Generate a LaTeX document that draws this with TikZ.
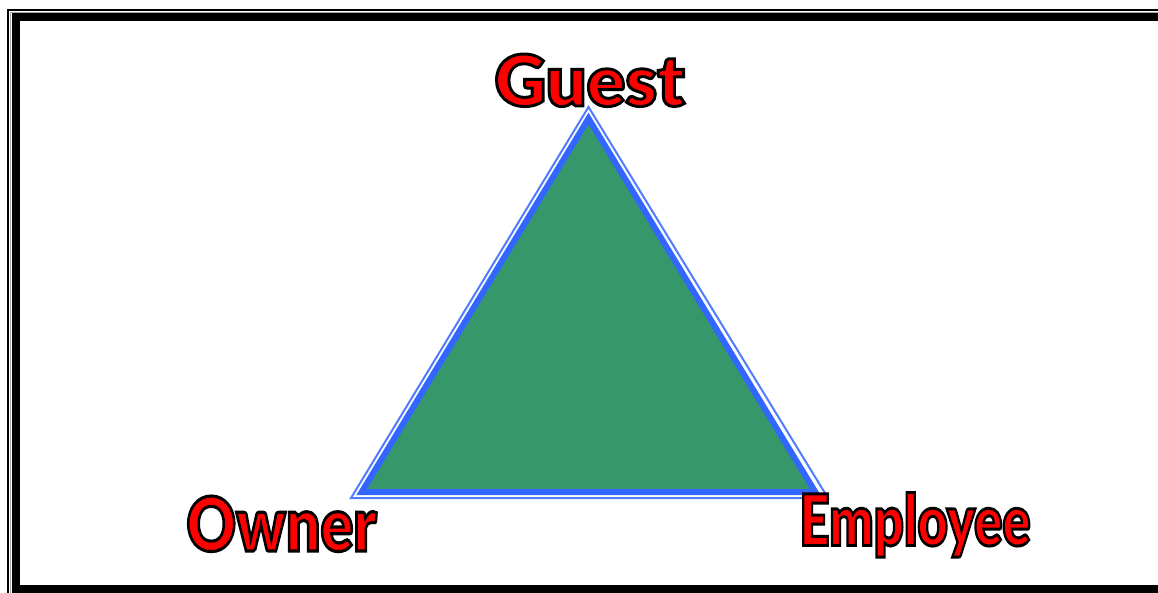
\documentclass[tikz,border=0pt]{standalone}
\usepackage{fontspec}
\newfontfamily\lblfont{Lato Black}
\definecolor{triblue}{RGB}{51,102,255}
\definecolor{trithin}{RGB}{80,125,255}
\definecolor{trigreen}{RGB}{54,152,106}
\newcommand\outl[1]{\special{pdf:literal direct 0 0 0 RG 2 Tr 3 w}#1\special{pdf:literal direct 0 Tr 0.4 w}}
\tikzset{
  lbl/.style={inner sep=0pt, anchor=base, text=red, font={\fontsize{72}{72}\lblfont}},
  triouter/.style={draw=trithin, line width=2pt, line join=miter},
  triinner/.style={draw=triblue, fill=trigreen, line width=6pt, line join=miter},
}
\begin{document}
\begin{tikzpicture}[x=1pt,y=-1pt]
\useasboundingbox (0,0) rectangle (1158,592);
\begin{scope}
  \clip (0,0) rectangle (1158,592);
  \draw[line width=2pt] (8,10) rectangle (1190,620);
  \draw[black!35, line width=1pt] (10.5,12.5) rectangle (1188,618);
  \draw[line width=7.5pt] (15.75,16.75) rectangle (1175,588.75);
\end{scope}
% triangle
\coordinate (A) at (588.5,107);
\coordinate (B) at (351,498);
\coordinate (C) at (828,498);
\coordinate (Ai) at (588.5,118.5);
\coordinate (Bi) at (361.7,492);
\coordinate (Ci) at (815.3,492);
\draw[triouter] (A) -- (B) -- (C) -- cycle;
\draw[triinner] (Ai) -- (Bi) -- (Ci) -- cycle;
% labels
\node[lbl] (guest) at (589.5,106) {\resizebox{190pt}{52pt}{\outl{Guest}}};
\node[lbl] (owner) at (281.5,551) {\resizebox{190pt}{55pt}{\outl{Owner}}};
\node[lbl] (employee) at (915,545.5) {\resizebox{231pt}{53pt}{\outl{Employee}}};
\end{tikzpicture}
\end{document}
